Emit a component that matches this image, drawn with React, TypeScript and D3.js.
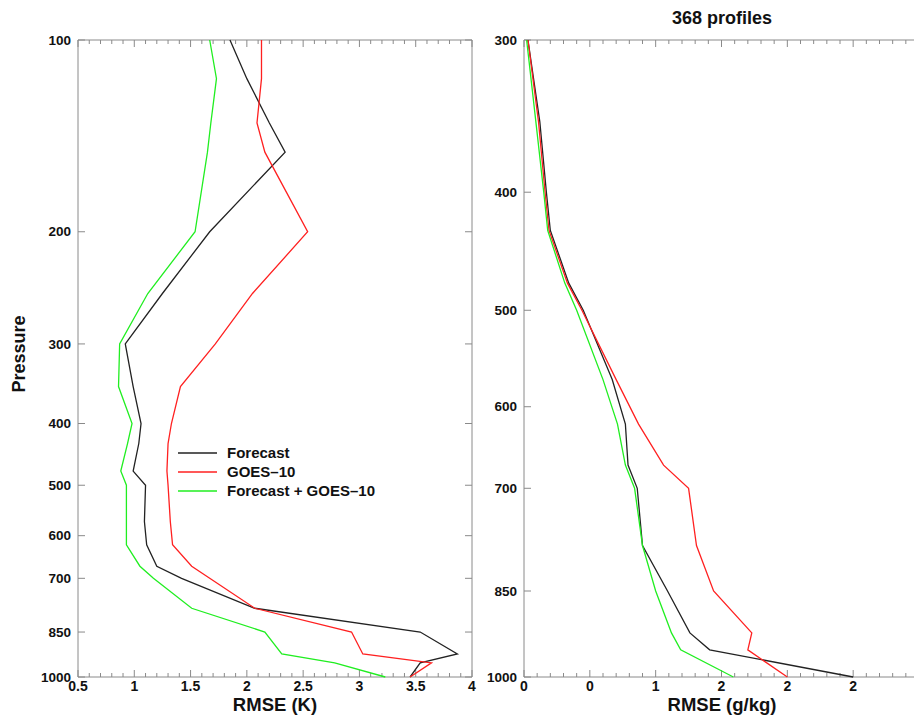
import React from "react";
import * as d3 from "d3";

// Pressure levels (hPa)
const levelsT = [100, 115, 135, 150, 200, 250, 300, 350, 400, 430, 475, 500, 570, 620, 670, 700, 780, 850, 920, 950, 1000];
const tempForecast = [1.85, 2.0, 2.2, 2.34, 1.67, 1.25, 0.92, 0.99, 1.06, 1.04, 0.99, 1.1, 1.09, 1.11, 1.2, 1.42, 2.07, 3.54, 3.87, 3.54, 3.45];
const tempGoes = [2.13, 2.13, 2.09, 2.16, 2.54, 2.05, 1.72, 1.41, 1.33, 1.3, 1.29, 1.3, 1.32, 1.34, 1.51, 1.67, 2.07, 2.93, 3.03, 3.64, 3.45];
const tempCombined = [1.67, 1.73, 1.68, 1.65, 1.54, 1.12, 0.87, 0.86, 0.98, 0.94, 0.88, 0.93, 0.93, 0.93, 1.05, 1.17, 1.51, 2.16, 2.31, 2.78, 3.23];

const levelsQ = [300, 350, 400, 430, 475, 500, 570, 620, 670, 700, 780, 850, 920, 950, 1000];
const qForecast = [0.03, 0.12, 0.17, 0.2, 0.34, 0.45, 0.67, 0.77, 0.79, 0.86, 0.9, 1.09, 1.26, 1.41, 2.5];
const qGoes = [0.03, 0.11, 0.16, 0.19, 0.33, 0.44, 0.7, 0.87, 1.06, 1.25, 1.31, 1.44, 1.73, 1.7, 2.0];
const qCombined = [0.02, 0.09, 0.15, 0.18, 0.31, 0.4, 0.6, 0.71, 0.77, 0.84, 0.9, 1.0, 1.12, 1.19, 1.59];

const yTicksT = [100, 200, 300, 400, 500, 600, 700, 850, 1000];
const yTicksQ = [300, 400, 500, 600, 700, 850, 1000];
const xTicksT = [0.5, 1, 1.5, 2, 2.5, 3, 3.5, 4];
const xTickLabelsT = ["0.5", "1", "1.5", "2", "2.5", "3", "3.5", "4"];
const xTicksQ = [0, 0.5, 1, 1.5, 2, 2.5];
const xTickLabelsQ = ["0", "0", "1", "2", "2", "2"];

const seriesNames = ["Forecast", "GOES\u201310", "Forecast + GOES\u201310"];
const seriesColors = ["#222222", "#ff2020", "#20ee20"];

const FONT = "'Liberation Sans', Arial, Helvetica, sans-serif";
const FRAME = "#8a8a8a";

function Panel({ x0, x1, xDomain, yDomain, levels, series, yTicks, xTicks, xLabels, xTitle, clipRight, id }: any) {
  const top = 40, bottom = 677;
  const x = d3.scaleLinear().domain(xDomain).range([x0, x1]);
  const y = d3.scaleLog().domain(yDomain).range([top, bottom]);
  const line = d3.line<number>().x((d) => x(d)).y((_, i) => y(levels[i]));
  const minor: number[] = [];
  const nMinor = Math.round((xDomain[1] - xDomain[0]) / 0.1);
  for (let i = 0; i <= nMinor; i++) minor.push(xDomain[0] + i * 0.1);
  return (
    <g>
      <defs>
        <clipPath id={id}>
          <rect x={x0} y={top - 1} width={x1 - x0} height={bottom - top + 2} />
        </clipPath>
      </defs>
      <line x1={x0} x2={x1} y1={top} y2={top} stroke={FRAME} strokeWidth={1} />
      <line x1={x0} x2={x1} y1={bottom} y2={bottom} stroke={FRAME} strokeWidth={1} />
      <line x1={x0} x2={x0} y1={top} y2={bottom} stroke={FRAME} strokeWidth={1} />
      {!clipRight && <line x1={x1} x2={x1} y1={top} y2={bottom} stroke={FRAME} strokeWidth={1} />}
      {minor.map((v, i) => {
        const isMajor = xTicks.some((t: number) => Math.abs(t - v) < 1e-6);
        const len = isMajor ? 7 : 4;
        return (
          <g key={i}>
            <line x1={x(v)} x2={x(v)} y1={bottom} y2={bottom - len} stroke={FRAME} />
            <line x1={x(v)} x2={x(v)} y1={top} y2={top + len} stroke={FRAME} />
          </g>
        );
      })}
      {yTicks.map((p: number) => (
        <g key={p}>
          <line x1={x0} x2={x0 + 7} y1={y(p)} y2={y(p)} stroke={FRAME} />
          {!clipRight && <line x1={x1} x2={x1 - 7} y1={y(p)} y2={y(p)} stroke={FRAME} />}
          <text x={x0 - 7} y={y(p)} dy="0.35em" textAnchor="end" fontFamily={FONT} fontWeight="bold" fontSize={13.5} fill="#111">
            {p}
          </text>
        </g>
      ))}
      {xTicks.map((t: number, i: number) => (
        <text key={i} x={x(t)} y={691} textAnchor="middle" fontFamily={FONT} fontWeight="bold" fontSize={14} fill="#111">
          {xLabels[i]}
        </text>
      ))}
      <text x={xTitle.x} y={711} textAnchor="middle" fontFamily={FONT} fontWeight="bold" fontSize={18.5} fill="#111">
        {xTitle.text}
      </text>
      <g clipPath={`url(#${id})`}>
        {series.map((s: number[], i: number) => (
          <path key={i} d={line(s) || ""} fill="none" stroke={seriesColors[i]} strokeWidth={1.3} strokeLinejoin="miter" />
        ))}
      </g>
    </g>
  );
}

export default function App() {
  return (
    <svg width={914} height={715} style={{ position: "absolute", left: 0, top: 0, background: "#fff" }}>
      <rect width={914} height={715} fill="#fff" />
      <Panel
        id="clipT"
        x0={78}
        x1={472}
        xDomain={[0.5, 4]}
        yDomain={[100, 1000]}
        levels={levelsT}
        series={[tempForecast, tempGoes, tempCombined]}
        yTicks={yTicksT}
        xTicks={xTicksT}
        xLabels={xTickLabelsT}
        xTitle={{ x: 275, text: "RMSE (K)" }}
        clipRight={false}
      />
      <Panel
        id="clipQ"
        x0={524}
        x1={919}
        xDomain={[0, 3]}
        yDomain={[300, 1000]}
        levels={levelsQ}
        series={[qForecast, qGoes, qCombined]}
        yTicks={yTicksQ}
        xTicks={xTicksQ}
        xLabels={xTickLabelsQ}
        xTitle={{ x: 722, text: "RMSE (g/kg)" }}
        clipRight={true}
      />
      <text transform="translate(25,354) rotate(-90)" textAnchor="middle" fontFamily={FONT} fontWeight="bold" fontSize={18} fill="#111">
        Pressure
      </text>
      <text x={722} y={24} textAnchor="middle" fontFamily={FONT} fontWeight="bold" fontSize={18} fill="#111">
        368 profiles
      </text>
      {seriesNames.map((n, i) => (
        <g key={n}>
          <line x1={178} x2={217} y1={453 + i * 19} y2={453 + i * 19} stroke={seriesColors[i]} strokeWidth={1.3} />
          <text x={227} y={453 + i * 19} dy="0.35em" fontFamily={FONT} fontWeight="bold" fontSize={15} fill="#111">
            {n}
          </text>
        </g>
      ))}
    </svg>
  );
}
